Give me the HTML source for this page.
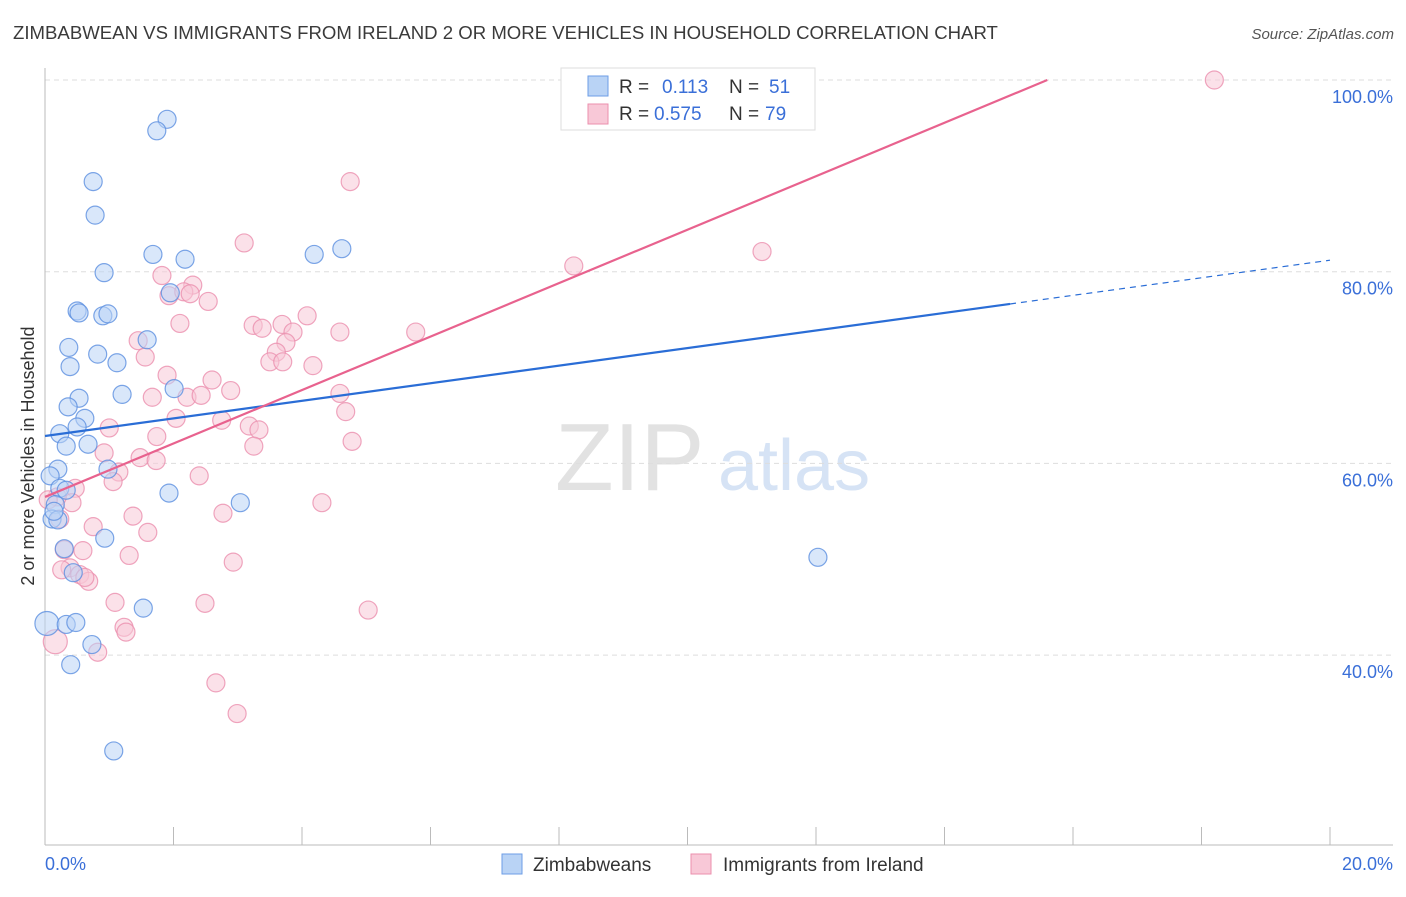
<!DOCTYPE html>
<html><head><meta charset="utf-8"><style>
body{margin:0;background:#fff;font-family:"Liberation Sans",sans-serif;}
svg text{font-family:"Liberation Sans",sans-serif;}
</style></head><body>
<svg id="chart" width="1406" height="892" xmlns="http://www.w3.org/2000/svg">
<text x="13" y="39" font-size="18.6" fill="#3a3a3a">ZIMBABWEAN VS IMMIGRANTS FROM IRELAND 2 OR MORE VEHICLES IN HOUSEHOLD CORRELATION CHART</text>
<text x="1394" y="39" font-size="15" fill="#555" text-anchor="end" font-style="italic">Source: ZipAtlas.com</text>
<text x="555" y="490" font-size="96" fill="#e2e2e2" font-family="Liberation Serif">ZIP</text>
<text x="718" y="490" font-size="72" fill="#d6e3f5">atlas</text>
<g id="grid"></g>
<g id="axes"></g>
<g id="marks"></g>
<text transform="translate(34,456) rotate(-90)" font-size="18" fill="#333" text-anchor="middle">2 or more Vehicles in Household</text>
<text x="45" y="870" font-size="18" fill="#3a6fd8">0.0%</text>
<text x="1393" y="870" font-size="18" fill="#3a6fd8" text-anchor="end">20.0%</text>
<g>
<rect x="561" y="68" width="254" height="62" fill="#fff" stroke="#ddd"/>
<rect x="588" y="76" width="20" height="20" fill="#b9d3f5" stroke="#6d9ee6"/>
<rect x="588" y="104" width="20" height="20" fill="#f8c8d7" stroke="#eb8fae"/>
<text x="619" y="93" font-size="19" fill="#333">R = </text><text x="662" y="93" font-size="19" fill="#3a6fd8">0.113</text>
<text x="729" y="93" font-size="19" fill="#333">N = </text><text x="769" y="93" font-size="19" fill="#3a6fd8">51</text>
<text x="619" y="120" font-size="19" fill="#333">R = </text><text x="654" y="120" font-size="19" fill="#3a6fd8">0.575</text>
<text x="729" y="120" font-size="19" fill="#333">N = </text><text x="765" y="120" font-size="19" fill="#3a6fd8">79</text>
</g>
<g>
<rect x="502" y="854" width="20" height="20" fill="#b9d3f5" stroke="#6d9ee6"/>
<text x="533" y="871" font-size="19" fill="#333">Zimbabweans</text>
<rect x="691" y="854" width="20" height="20" fill="#f8c8d7" stroke="#eb8fae"/>
<text x="723" y="871" font-size="19" fill="#333">Immigrants from Ireland</text>
</g>
</svg>
<script>
const blueX=[1.90,1.74,0.75,0.78,1.68,2.18,4.19,4.62,0.92,1.95,0.50,0.53,0.90,0.98,1.59,0.37,0.82,1.12,0.39,2.01,1.20,0.53,0.36,0.62,0.23,0.50,0.67,0.33,0.20,0.98,0.08,0.23,0.16,0.11,0.20,1.93,3.04,0.93,0.30,0.44,0.03,0.33,0.48,1.53,0.73,0.40,1.07,12.03,0.14,0.33];
const blueY=[95.9,94.7,89.4,85.9,81.8,81.3,81.8,82.4,79.9,77.8,75.9,75.7,75.4,75.6,72.9,72.1,71.4,70.5,70.1,67.8,67.2,66.8,65.9,64.7,63.1,63.8,62.0,61.8,59.4,59.4,58.7,57.4,55.7,54.2,54.1,56.9,55.9,52.2,51.1,48.6,43.3,43.2,43.4,44.9,41.1,39.0,30.0,50.2,55.0,57.2];
const pinkX=[18.2,4.75,3.10,11.16,8.23,1.82,2.30,1.93,2.16,2.26,2.54,2.10,3.24,3.38,4.08,3.69,3.86,4.59,5.77,1.45,3.75,3.60,3.50,3.70,4.17,1.56,1.90,2.60,2.89,1.67,2.21,2.43,4.59,4.68,2.04,2.75,1.00,3.18,3.33,1.74,4.78,3.25,0.92,1.48,1.73,1.15,2.40,1.06,0.47,0.42,4.31,0.23,0.19,1.37,2.77,0.75,1.60,0.30,0.59,1.31,0.39,0.54,0.68,2.93,1.09,2.49,5.03,1.23,1.26,0.82,0.16,2.66,2.99,0.26,0.62,0.05];
const pinkY=[100,89.4,83.0,82.1,80.6,79.6,78.6,77.5,77.9,77.7,76.9,74.6,74.4,74.1,75.4,74.5,73.7,73.7,73.7,72.8,72.6,71.6,70.6,70.6,70.2,71.1,69.2,68.7,67.6,66.9,66.9,67.1,67.3,65.4,64.7,64.5,63.7,63.9,63.5,62.8,62.3,61.8,61.1,60.6,60.3,59.1,58.7,58.1,57.4,55.9,55.9,54.2,56.5,54.5,54.8,53.4,52.8,51.0,50.9,50.4,49.1,48.4,47.7,49.7,45.5,45.4,44.7,42.9,42.4,40.3,41.4,37.1,33.9,48.9,48.1,56.2];
const yTicks=[100,80,60,40];
const yTickLabels=["100.0%","80.0%","60.0%","40.0%"];
const blueTrend=[62.86,81.2];
const pinkTrend=[56.5,100];
const NS="http://www.w3.org/2000/svg";
const xs=v=>45+v*64.25;
const ys=v=>80+(100-v)*9.585;
function mk(tag,attrs,parent){const e=document.createElementNS(NS,tag);for(const k in attrs)e.setAttribute(k,attrs[k]);document.getElementById(parent).appendChild(e);return e;}
yTicks.forEach((t,i)=>{
 const l=mk('line',{x1:45,x2:1393,y1:ys(t),y2:ys(t),stroke:'#ddd','stroke-dasharray':'5,4'},'grid');
 
 
 const tx=mk('text',{x:1393,y:ys(t)+23,'font-size':18,fill:'#3a6fd8','text-anchor':'end'},'grid');
 tx.textContent=yTickLabels[i];
 
 
});
const ax=mk('line',{x1:45,x2:1393,y1:845,y2:845,stroke:'#bbb'},'axes');


const ay=mk('line',{x1:45,x2:45,y1:68,y2:845,stroke:'#bbb'},'axes');


for(let k=0;k<=10;k++){const t=mk('line',{x1:xs(k*2),x2:xs(k*2),y1:827,y2:845,stroke:'#bbb'},'axes');
 
 }
function pts(X,Y,fill,stroke,name){X.forEach((x,i)=>{
 const big=(x<0.1&&Y[i]<45)||(x<0.2&&Y[i]>41&&Y[i]<42);
 const c=mk('circle',{cx:xs(x),cy:ys(Y[i]),r:big?12:9,fill:fill,'fill-opacity':0.55,stroke:stroke,'stroke-opacity':0.8,'stroke-width':1.2},'marks');
 
 });}
pts(pinkX,pinkY,'#f8c8d7','#eb8fae','ireland-point');
pts(blueX,blueY,'#b9d3f5','#5b8fe0','zimbabwean-point');
const bx=15.02;
const b1=mk('line',{x1:xs(0),y1:ys(blueTrend[0]),x2:xs(bx),y2:ys(blueTrend[0]+(blueTrend[1]-blueTrend[0])*bx/20),stroke:'#2a6dd6','stroke-width':2.2},'marks');


const b2=mk('line',{x1:xs(bx),y1:ys(blueTrend[0]+(blueTrend[1]-blueTrend[0])*bx/20),x2:xs(20),y2:ys(blueTrend[1]),stroke:'#2a6dd6','stroke-width':1.2,'stroke-dasharray':'6,5'},'marks');


const p1=mk('line',{x1:xs(0),y1:ys(pinkTrend[0]),x2:xs(15.6),y2:ys(pinkTrend[1]),stroke:'#e8628e','stroke-width':2.2},'marks');


</script>
</body></html>
